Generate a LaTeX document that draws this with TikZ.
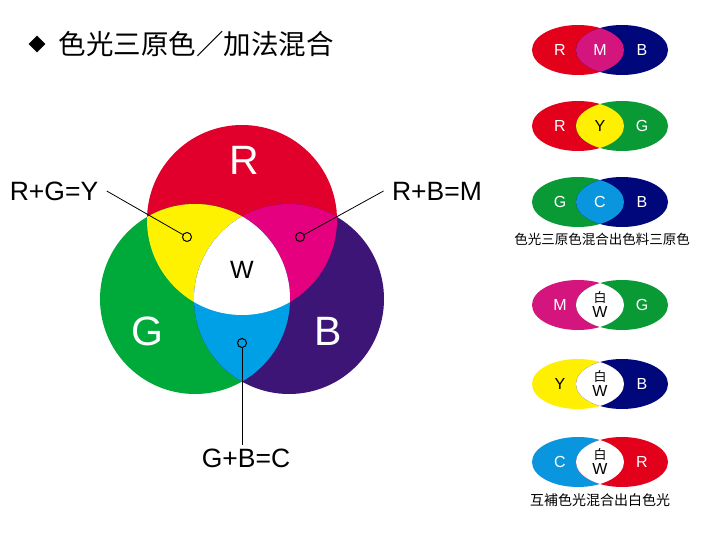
\documentclass[tikz,border=0pt]{standalone}
\usepackage{fontspec}
\setmainfont{Liberation Sans}
\newfontfamily\cjk{Noto Sans CJK TC}
\usetikzlibrary{shapes.geometric}

% venn colours
\definecolor{vred}{HTML}{E0002B}
\definecolor{vgreen}{HTML}{00AA3A}
\definecolor{vblue}{HTML}{3C1577}
\definecolor{vyellow}{HTML}{FFF200}
\definecolor{vmag}{HTML}{E4007E}
\definecolor{vcyan}{HTML}{00A0E6}
% small ellipse colours
\definecolor{sred}{HTML}{E3001B}
\definecolor{snavy}{HTML}{00077A}
\definecolor{smag}{HTML}{D4157E}
\definecolor{sgreen}{HTML}{0A9A35}
\definecolor{syellow}{HTML}{FFEF00}
\definecolor{scyan}{HTML}{0A96DE}

\tikzset{
  big label/.style={text=white, font=\fontsize{41}{41}\selectfont},
  callout/.style={font=\fontsize{26.5}{26.5}\selectfont},
  pin dot/.style={circle, draw=black, line width=1pt, inner sep=0pt, minimum size=9pt},
  small label/.style={font=\fontsize{16}{15}\selectfont, align=center}
}

\begin{document}
\begin{tikzpicture}[x=1pt, y=-1pt]
    \useasboundingbox[fill=white] (0,0) rectangle (720,540);

    % Title
    \node[diamond, fill=black, inner sep=0pt, minimum size=17pt] (bullet) at (37,44) {};
    \node[anchor=west, font=\cjk\fontsize{27.5}{27.5}\selectfont] (title) at (55,44) {色光三原色／加法混合};

    % Three circles, r=95
    \fill[vred] (242,220) circle (95);
    \fill[vgreen] (195,299) circle (95);
    \fill[vblue] (289,299) circle (95);

    % R and G -> yellow
    \begin{scope}
        \clip (242,220) circle (95);
        \fill[vyellow] (195,299) circle (95);
    \end{scope}
    % R and B -> magenta
    \begin{scope}
        \clip (242,220) circle (95);
        \fill[vmag] (289,299) circle (95);
    \end{scope}
    % G and B -> cyan
    \begin{scope}
        \clip (195,299) circle (95);
        \fill[vcyan] (289,299) circle (95);
    \end{scope}
    % all three -> white
    \begin{scope}
        \clip (242,220) circle (95);
        \clip (195,299) circle (95);
        \fill[white] (289,299) circle (95);
    \end{scope}

    \node[big label] (r) at (244,160) {R};
    \node[big label] (g) at (147,331) {G};
    \node[big label] (b) at (328,331) {B};
    \node[font=\fontsize{25}{25}\selectfont] (w) at (242,270) {W};

    % Callouts
    \node[pin dot] (ydot) at (187,237) {};
    \node[pin dot] (mdot) at (300,237) {};
    \node[pin dot] (cdot) at (242,343) {};
    \node[callout] (rgy) at (54,191) {R+G=Y};
    \node[callout] (rbm) at (437,191) {R+B=M};
    \node[callout] (gbc) at (246,458) {G+B=C};
    \draw[line width=0.8pt] ([xshift=5pt]rgy.east) -- (ydot);
    \draw[line width=0.8pt] ([xshift=-5pt]rbm.west) -- (mdot);
    \draw[line width=0.8pt] (cdot) -- (cdot |- gbc.north);

    % Pairs of ellipses
    \foreach \y/\lc/\rc/\mc/\la/\ma/\ra/\lt/\mt/\n in {
        50/sred/snavy/smag/R/M/B/white/white/1,
        126/sred/sgreen/syellow/R/Y/G/white/black/2,
        202/sgreen/snavy/scyan/G/C/B/white/white/3,
        305/smag/sgreen/white/M/{{\cjk\fontsize{13}{13}\selectfont 白}\\W}/G/white/black/4,
        384/syellow/snavy/white/Y/{{\cjk\fontsize{13}{13}\selectfont 白}\\W}/B/black/black/5,
        462/scyan/sred/white/C/{{\cjk\fontsize{13}{13}\selectfont 白}\\W}/R/white/black/6} {
        \fill[\lc] (578,\y) ellipse (46 and 25);
        \fill[\rc] (622,\y) ellipse (46 and 25);
        \begin{scope}
            \clip (578,\y) ellipse (46 and 25);
            \fill[\mc] (622,\y) ellipse (46 and 25);
        \end{scope}
        \node[small label, text=\lt] (left\n) at (560,\y) {\la};
        \node[small label, text=\mt] (mid\n) at (600,\y) {\ma};
        \node[small label, text=white] (right\n) at (642,\y) {\ra};
    }

    % Captions
    \node[font=\cjk\fontsize{13.5}{13.5}\selectfont] (cap1) at (602,239) {色光三原色混合出色料三原色};
    \node[font=\cjk\fontsize{14}{14}\selectfont] (cap2) at (600,500) {互補色光混合出白色光};
\end{tikzpicture}
\end{document}
